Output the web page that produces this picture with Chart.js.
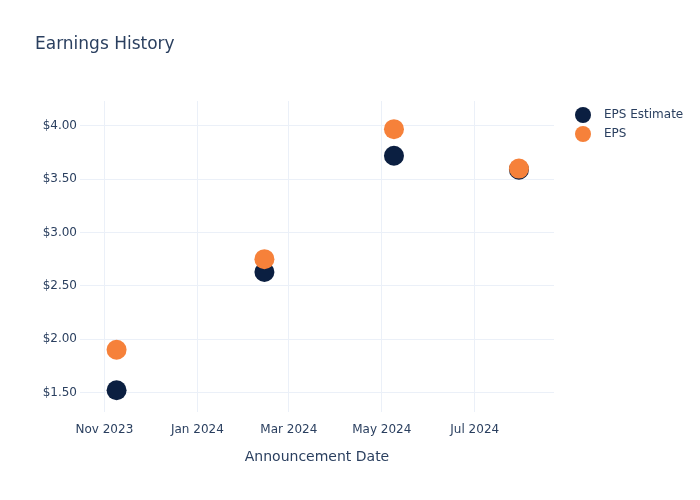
<!DOCTYPE html>
<html>
<head>
<meta charset="utf-8">
<script src="https://cdn.jsdelivr.net/npm/chart.js@4.4.1/dist/chart.umd.min.js"></script>
<style>
  html, body { margin: 0; padding: 0; background: #fff; }
  #wrap { width: 700px; height: 500px; }
</style>
</head>
<body>
<div id="wrap"><canvas id="myChart" width="700" height="500"></canvas></div>
<script>
// announcement dates (yyyy, m, d)
const dates = [[2023, 11, 9], [2024, 2, 14], [2024, 5, 9], [2024, 7, 30]]
const epsEstimate = [1.52, 2.63, 3.72, 3.59]
const eps = [1.90, 2.75, 3.97, 3.60]
const tickMonths = [[2023, 11], [2024, 1], [2024, 3], [2024, 5], [2024, 7]]
const monthNames = ['Jan', 'Feb', 'Mar', 'Apr', 'May', 'Jun', 'Jul', 'Aug', 'Sep', 'Oct', 'Nov', 'Dec']

const ts = d => Date.UTC(d[0], d[1] - 1, d[2] || 1)
const navy = '#0b1f41'
const orange = '#f6813a'
const textColor = '#2a3f5f'
const gridColor = '#ebf0f8'
const fontFamily = '"DejaVu Sans", sans-serif'

const pts = vals => vals.map((v, i) => ({ x: ts(dates[i]), y: v }))

// title + legend drawn by hand so they sit where the reference puts them
const decor = {
  id: 'decor',
  afterDraw(chart) {
    const ctx = chart.ctx
    ctx.save()
    ctx.fillStyle = textColor
    ctx.font = '17px ' + fontFamily
    ctx.textBaseline = 'middle'
    ctx.textAlign = 'left'
    ctx.fillText('Earnings History', 35, 45)
    chart.data.datasets.forEach((ds, i) => {
      const y = 114 + i * 19
      ctx.beginPath()
      ctx.fillStyle = ds.backgroundColor
      ctx.arc(583, y + 1, 8, 0, Math.PI * 2)
      ctx.fill()
      ctx.fillStyle = textColor
      ctx.font = '12px ' + fontFamily
      ctx.fillText(ds.label, 604, y + 1)
    })
    ctx.restore()
  }
}

const ctx = document.getElementById('myChart')
const chart = new Chart(ctx, {
  type: 'scatter',
  data: {
    datasets: [
      {
        label: 'EPS Estimate',
        data: pts(epsEstimate),
        backgroundColor: navy,
        borderColor: navy,
        pointRadius: 10,
        pointBorderWidth: 0,
        order: 1
      },
      {
        label: 'EPS',
        data: pts(eps),
        backgroundColor: orange,
        borderColor: orange,
        pointRadius: 10,
        pointBorderWidth: 0,
        order: 0
      }
    ]
  },
  options: {
    responsive: false,
    animation: false,
    layout: { padding: { left: 0, right: 146, top: 101, bottom: 0 } },
    plugins: {
      legend: { display: false },
      tooltip: { enabled: false }
    },
    scales: {
      x: {
        type: 'linear',
        min: Date.UTC(2023, 9, 16),
        max: Date.UTC(2024, 7, 22),
        afterBuildTicks: axis => {
          axis.ticks = tickMonths.map(m => ({ value: ts(m) }))
        },
        afterFit: axis => { axis.height = 88 },
        grid: { color: gridColor, drawTicks: false },
        border: { display: false },
        ticks: {
          padding: 11,
          color: textColor,
          font: { family: fontFamily, size: 12 },
          maxRotation: 0,
          callback: v => {
            const d = new Date(v)
            return monthNames[d.getUTCMonth()] + ' ' + d.getUTCFullYear()
          }
        },
        title: {
          display: true,
          text: 'Announcement Date',
          color: textColor,
          font: { family: fontFamily, size: 14 },
          padding: { top: 0, bottom: 34 }
        }
      },
      y: {
        min: 1.316,
        max: 4.234,
        afterBuildTicks: axis => {
          axis.ticks = [1.5, 2, 2.5, 3, 3.5, 4].map(v => ({ value: v }))
        },
        afterFit: axis => { axis.width = 80 },
        grid: { color: gridColor, drawTicks: false },
        border: { display: false },
        ticks: {
          padding: 3,
          color: textColor,
          font: { family: fontFamily, size: 12 },
          callback: v => '$' + v.toFixed(2)
        }
      }
    }
  },
  plugins: [decor]
})
</script>
</body>
</html>
